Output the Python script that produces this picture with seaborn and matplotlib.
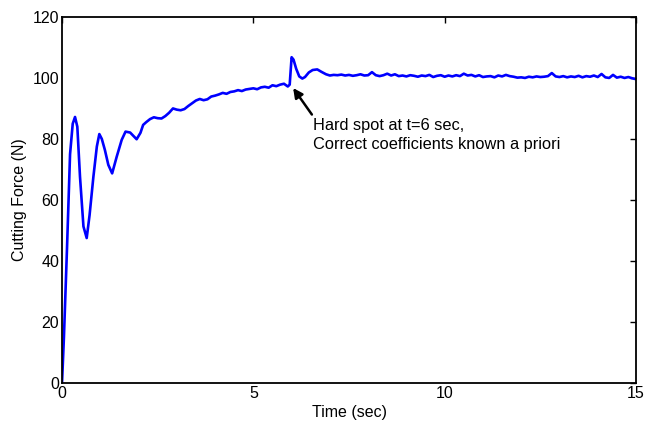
"""
Cutting force response with a hard spot at t = 6 s.
"""

import numpy as np
import pandas as pd
import matplotlib.pyplot as plt
import seaborn as sns

# Time samples (sec)
time_s = [
    0.0, 0.05, 0.13, 0.21, 0.28, 0.34, 0.40, 0.47, 0.56, 0.645, 0.72, 0.82, 0.91,
    0.975, 1.04, 1.12, 1.21, 1.31, 1.43, 1.56, 1.66, 1.78, 1.95, 2.05, 2.12, 2.2,
    2.3, 2.4, 2.5, 2.6, 2.7, 2.8, 2.9, 3.0, 3.1, 3.2, 3.3, 3.4, 3.5, 3.6, 3.7,
    3.8, 3.9, 4.0, 4.1, 4.2, 4.3, 4.4, 4.5, 4.6, 4.7, 4.8, 4.9, 5.0, 5.1, 5.2,
    5.3, 5.4, 5.5, 5.6, 5.7, 5.8, 5.9,
    5.95, 5.98, 6.0, 6.05, 6.12, 6.2, 6.28, 6.35, 6.45, 6.55, 6.67, 6.78, 6.9, 7.0,
    7.1, 7.2, 7.3, 7.4, 7.5, 7.6, 7.7, 7.8, 7.9, 8.0, 8.1, 8.2, 8.3, 8.4, 8.5,
    8.6, 8.7, 8.8, 8.9, 9.0, 9.1, 9.2, 9.3, 9.4, 9.5, 9.6, 9.7, 9.8, 9.9, 10.0,
    10.1, 10.2, 10.3, 10.4, 10.5, 10.6, 10.7, 10.8, 10.9, 11.0, 11.1, 11.2, 11.3,
    11.4, 11.5, 11.6, 11.7, 11.8, 11.9, 12.0, 12.1, 12.2, 12.3, 12.4, 12.5, 12.6,
    12.7, 12.8, 12.9, 13.0, 13.1, 13.2, 13.3, 13.4, 13.5, 13.6, 13.7, 13.8, 13.9,
    14.0, 14.1, 14.2, 14.3, 14.4, 14.5, 14.6, 14.7, 14.8, 14.9, 15.0,
]

# Cutting force (N)
force_n = [
    0.0, 15.0, 44.0, 75.0, 85.0, 87.2, 84.0, 67.6, 51.3, 47.5, 55.0, 67.6, 77.5,
    81.6, 80.0, 76.4, 71.5, 68.7, 74.2, 79.7, 82.4, 82.1, 79.9, 82.0, 84.6, 85.5,
    86.5, 87.1, 86.8, 86.7, 87.5, 88.6, 90.0, 89.6, 89.4, 89.8, 90.8, 91.7, 92.6,
    93.1, 92.7, 93.0, 93.9, 94.2, 94.6, 95.1, 94.8, 95.4, 95.6, 96.0, 95.7, 96.2,
    96.4, 96.6, 96.3, 96.9, 97.1, 96.8, 97.6, 97.3, 97.8, 98.1, 97.2,
    97.8, 103.0, 106.8, 106.0, 103.0, 100.5, 99.8, 100.3, 101.8, 102.6, 102.8,
    102.0, 101.2, 100.8,
    101.0, 100.9, 101.1, 100.8, 101.0, 100.7, 100.9, 101.2, 100.8, 100.9, 101.9,
    100.9, 100.6, 100.9, 101.4, 100.8, 101.2, 100.6, 100.8, 100.5, 100.9, 100.7,
    100.4, 100.8, 100.6, 101.0, 100.3, 100.7, 100.9, 100.4, 100.8, 100.5, 100.9,
    100.6, 101.4, 100.8, 101.0, 100.5, 100.9, 100.3, 100.5, 100.6, 100.2, 100.8,
    100.5, 101.0, 100.6, 100.4, 100.1, 100.2, 100.0, 100.4, 100.2, 100.5, 100.3,
    100.4, 100.6, 101.6, 100.5, 100.3, 100.6, 100.2, 100.5, 100.3, 100.7, 100.2,
    100.6, 100.4, 100.8, 100.3, 101.3, 100.2, 100.0, 101.0, 100.1, 100.4, 100.0,
    100.3, 99.9, 99.6,
]

x_ticks = [0, 5, 10, 15]
y_ticks = [0, 20, 40, 60, 80, 100, 120]


def main():
    sns.set_style("white")
    plt.rcParams["font.family"] = ["Liberation Sans", "DejaVu Sans"]
    plt.rcParams["text.color"] = "black"
    plt.rcParams["axes.labelcolor"] = "black"

    df = pd.DataFrame({"time": time_s, "force": force_n})

    fig = plt.figure(figsize=(6.46, 4.24), dpi=100)
    ax = fig.add_axes([0.096, 0.097, 0.8885, 0.863])

    sns.lineplot(data=df, x="time", y="force", ax=ax, color="#0000ff",
                 linewidth=1.9, sort=False)

    ax.set_xlim(0, 15)
    ax.set_ylim(0, 120)
    ax.set_xticks(x_ticks)
    ax.set_yticks(y_ticks)
    ax.tick_params(direction="in", length=4, width=1, top=True, right=True,
                   labelsize=11.5, colors="black", pad=2)
    for spine in ax.spines.values():
        spine.set_color("black")
        spine.set_linewidth(1.3)

    ax.set_xlabel("Time (sec)", fontsize=11.5, labelpad=3)
    ax.set_ylabel("Cutting Force (N)", fontsize=11.5, labelpad=4)

    # Hard spot annotation
    ax.annotate("", xy=(6.04, 96.7), xytext=(6.53, 88.0),
                arrowprops=dict(arrowstyle="-|>", color="black", lw=1.8,
                                mutation_scale=14, shrinkA=0, shrinkB=0))
    ax.text(6.56, 87.0, "Hard spot at t=6 sec,\nCorrect coefficients known a priori",
            ha="left", va="top", fontsize=11.8, linespacing=1.4, color="black")

    plt.savefig("out.png", dpi=100)


if __name__ == "__main__":
    main()
